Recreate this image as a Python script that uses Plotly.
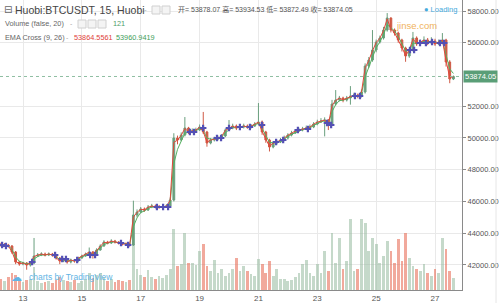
import numpy as np
import pandas as pd
import plotly.graph_objects as go

# ---------------- data (3-hour bars) ----------------
first_bar_day = 12.25          # day-of-month of first bar
bars_per_day = 8

open_ = [43300, 43258, 43258, 43195, 42817, 42187, 42061, 42124, 41998, 42124,
         42565, 42628, 42691, 42628, 42691, 42628, 42439, 42250, 42376, 42187,
         42313, 42250, 42439, 42565, 42691, 42817, 42628, 42943, 43195, 43447,
         43384, 43510, 43447, 43384, 43321, 43321, 43258, 45148, 45337, 45526,
         45463, 45652, 45715, 45652, 45652, 45652, 45715, 46093, 49999, 49873,
         50188, 50629, 50377, 50440, 50503, 50692, 50377, 49684, 49873, 49936,
         49999, 50125, 50503, 50629, 50755, 50629, 50692, 50755, 50692, 50755,
         50881, 51007, 50377, 49873, 49432, 49684, 49747, 49873, 49999, 50188,
         50314, 50440, 50503, 50566, 50629, 50692, 50881, 51007, 51070, 51133,
         50818, 52141, 52393, 52519, 52393, 52519, 52645, 52708, 52645, 52897,
         54535, 54913, 55543, 56047, 56299, 56803, 57559, 56803, 56614, 56173,
         55669, 55165, 55543, 56299, 55921, 56047, 56173, 55984, 56110, 55921,
         56047, 56173, 54787, 53716]

high = [43400, 43380, 43330, 43250, 42880, 42250, 42200, 42180, 42200, 43700,
        42750, 42800, 42780, 42790, 42760, 42700, 42500, 42450, 42420, 42400,
        42380, 42520, 42650, 42780, 43100, 42880, 43050, 43300, 43560, 43520,
        43620, 43580, 43500, 43430, 43420, 43380, 46050, 45500, 45650, 45620,
        45780, 45850, 45800, 45780, 45760, 45830, 46250, 50300, 50150, 50350,
        51320, 50700, 50600, 50650, 50850, 51640, 50450, 50000, 50080, 50150,
        50250, 50600, 51130, 50900, 50850, 50820, 50900, 50850, 50880, 51000,
        52200, 51100, 50450, 49950, 49800, 49880, 50000, 50150, 50300, 50450,
        50560, 50650, 50700, 50780, 50850, 51000, 51150, 51250, 51300, 51200,
        52400, 53020, 52650, 52600, 52650, 53270, 52850, 52800, 53050, 54700,
        55100, 56800, 56200, 56450, 57000, 57870, 57600, 56900, 56700, 56250,
        55750, 55700, 56680, 56400, 56200, 56400, 56300, 56350, 56250, 56200,
        56610, 56250, 54900, 53934.53]

low = [43150, 43140, 43100, 42700, 42050, 41950, 41980, 41700, 41900, 42050,
       42500, 42560, 42540, 42560, 42520, 42340, 42050, 42180, 42080, 42100,
       42150, 42200, 42400, 42520, 42640, 42400, 42580, 42900, 43150, 43300,
       43320, 43350, 43290, 43230, 43220, 43150, 43200, 45000, 45250, 45350,
       45400, 45580, 45560, 45540, 45550, 45600, 45650, 46000, 49600, 49800,
       50100, 50250, 50300, 50350, 50450, 50250, 49450, 49600, 49780, 49850,
       49900, 50050, 50450, 50550, 50500, 50550, 50600, 50580, 50600, 50700,
       50800, 50200, 49700, 49150, 49350, 49600, 49680, 49800, 49900, 50100,
       50250, 50380, 50420, 50500, 50560, 50620, 50800, 50950, 50100, 50500,
       50750, 52050, 52300, 52250, 52300, 52100, 52550, 52500, 52550, 52800,
       54400, 54800, 55400, 55950, 56200, 56700, 56650, 56450, 56000, 55450,
       54800, 55050, 55450, 55800, 55850, 55950, 55850, 55900, 55800, 55850,
       55950, 54500, 53450, 53650]

close = [43258, 43258, 43195, 42817, 42187, 42061, 42124, 41998, 42124, 42565,
         42628, 42691, 42628, 42691, 42628, 42439, 42250, 42376, 42187, 42313,
         42250, 42439, 42565, 42691, 42817, 42628, 42943, 43195, 43447, 43384,
         43510, 43447, 43384, 43321, 43321, 43258, 45148, 45337, 45526, 45463,
         45652, 45715, 45652, 45652, 45652, 45715, 46093, 49999, 49873, 50188,
         50629, 50377, 50440, 50503, 50692, 50377, 49684, 49873, 49936, 49999,
         50125, 50503, 50629, 50755, 50629, 50692, 50755, 50692, 50755, 50881,
         51007, 50377, 49873, 49432, 49684, 49747, 49873, 49999, 50188, 50314,
         50440, 50503, 50566, 50629, 50692, 50881, 51007, 51070, 51133, 50818,
         52141, 52393, 52519, 52393, 52519, 52645, 52708, 52645, 52897, 54535,
         54913, 55543, 56047, 56299, 56803, 57559, 56803, 56614, 56173, 55669,
         55165, 55543, 56299, 55921, 56047, 56173, 55984, 56110, 55921, 56047,
         56173, 54787, 53716, 53874.05]

volume = [154, 126, 182, 238, 210, 126, 112, 140, 154, 322,
          126, 98, 112, 126, 98, 140, 182, 140, 126, 112,
          140, 98, 126, 154, 238, 168, 210, 238, 182, 126,
          154, 112, 140, 126, 112, 140, 644, 294, 210, 182,
          280, 182, 154, 196, 168, 210, 294, 854, 336, 364,
          798, 378, 378, 350, 546, 644, 336, 266, 420, 238,
          294, 196, 238, 294, 448, 266, 336, 266, 224, 196,
          434, 364, 238, 406, 196, 294, 154, 154, 126, 140,
          182, 238, 364, 420, 238, 196, 364, 238, 546, 266,
          798, 378, 728, 294, 406, 994, 266, 294, 994, 938,
          546, 728, 644, 378, 476, 686, 546, 378, 714, 406,
          798, 448, 336, 294, 266, 364, 238, 196, 294, 238,
          728, 574, 266, 168]

# EMA-cross signal markers (day, price)
cross_day = [12.29, 12.42, 13.31, 14.09, 14.33, 14.46, 14.84, 15.28, 15.45,
             16.33, 16.57, 17.55, 17.76, 17.93, 18.67, 18.81, 19.12, 19.59,
             19.73, 20.00, 20.37, 20.71, 21.12, 21.60, 21.84, 22.34, 22.68,
             23.33, 23.47, 24.28, 24.45, 26.15, 26.29, 26.49, 26.69, 26.90,
             27.17, 27.31]
cross_price = [43258, 43195, 42187, 42628, 42376, 42376, 42313, 42628, 42628,
               43384, 43258, 45652, 45652, 45652, 50377, 50377, 50629, 49999,
               49999, 50629, 50692, 50692, 50818, 49747, 49873, 50503, 50566,
               50944, 50818, 52645, 52645, 55543, 55543, 55984, 55984, 56047,
               55984, 55984]

day_ticks = [13, 15, 17, 19, 21, 23, 25, 27]
price_ticks = [42000, 44000, 46000, 48000, 50000, 52000, 56000, 58000]

ema_fast_len, ema_slow_len = 9, 26
bars_15m_per_bar = 12

# ---------------- derived ----------------
t = first_bar_day + np.arange(len(close)) / bars_per_day
cl = pd.Series(close)
a_fast = 1 - (1 - 2 / (ema_fast_len + 1)) ** bars_15m_per_bar
a_slow = 1 - (1 - 2 / (ema_slow_len + 1)) ** bars_15m_per_bar
ema_fast = cl.ewm(alpha=a_fast, adjust=False).mean()
ema_slow = cl.ewm(alpha=a_slow, adjust=False).mean()

UP, DN = '#6a9f7e', '#cf5a45'
vol_col = ['rgba(150,185,158,0.55)' if c >= o else 'rgba(232,112,90,0.6)'
           for o, c in zip(open_, close)]

PW, PH = 462, 290
def px(x): return x / PW
def py(y): return 1 - y / PH

FONT = 'Liberation Sans, Noto Sans CJK SC, sans-serif'

fig = go.Figure()
fig.add_trace(go.Bar(x=t, y=volume, marker_color=vol_col, marker_line_width=0,
                     width=0.75 / bars_per_day, yaxis='y', hoverinfo='skip'))
fig.add_trace(go.Candlestick(x=t, open=open_, high=high, low=low, close=close,
                             yaxis='y2',
                             increasing=dict(line=dict(color=UP, width=1), fillcolor=UP),
                             decreasing=dict(line=dict(color=DN, width=1), fillcolor=DN),
                             whiskerwidth=0))
fig.add_trace(go.Scatter(x=t, y=ema_slow, mode='lines', yaxis='y2',
                         line=dict(color='#55b060', width=1)))
fig.add_trace(go.Scatter(x=t, y=ema_fast, mode='lines', yaxis='y2',
                         line=dict(color='#e2473b', width=1)))
fig.add_trace(go.Scatter(x=cross_day, y=cross_price, mode='markers', yaxis='y2',
                         marker=dict(symbol='cross', size=5.5, color='#5450b4',
                                     line=dict(width=0))))

x0 = 13 - 23 / 29.43
x1 = 13 + (PW - 23) / 29.43
y_top = 58000 + 11 * 63
y_bot = 58000 - (PH - 11) * 63

fig.update_layout(
    width=500, height=303, margin=dict(l=0, r=38, t=0, b=13),
    paper_bgcolor='white', plot_bgcolor='white', showlegend=False,
    bargap=0,
    font=dict(family=FONT, color='#555'),
    xaxis=dict(range=[x0, x1], tickvals=day_ticks, ticktext=[str(d) for d in day_ticks],
               showgrid=True, gridcolor='#e9e9e9', gridwidth=1, zeroline=False,
               showline=True, linecolor='#8a8a8a', linewidth=1, ticks='',
               tickfont=dict(size=8, color='#555'), rangeslider=dict(visible=False)),
    yaxis=dict(range=[0, PH * 14], visible=False, showgrid=False, fixedrange=True),
    yaxis2=dict(overlaying='y', side='right', range=[y_bot, y_top],
                tickvals=price_ticks, ticktext=[f'{p:.2f}' for p in price_ticks],
                showgrid=True, gridcolor='#e9e9e9', zeroline=False,
                showline=True, linecolor='#8a8a8a', linewidth=1,
                ticks='outside', ticklen=3, tickcolor='#8a8a8a',
                tickfont=dict(size=7.5, color='#555')),
)

last = close[-1]
fig.add_shape(type='line', xref='paper', x0=0, x1=1, yref='y2', y0=last, y1=last,
              line=dict(color='#8fbfa2', width=1, dash='dot'))
fig.add_shape(type='line', xref='paper', x0=px(496), x1=px(496), yref='paper',
              y0=py(303), y1=1, line=dict(color='#e6e6e6', width=1))

# small header icons
for (a, b, yy) in [(152, 160, 10), (162, 170, 10), (78, 86, 24), (88, 96, 24), (98, 106, 24)]:
    fig.add_shape(type='rect', xref='paper', yref='paper', x0=px(a), x1=px(b),
                  y0=py(yy + 4), y1=py(yy - 4), line=dict(color='#d0d0d0', width=1),
                  fillcolor='#f4f4f4')

def ann(x, y, text, size, color, anchor='left', family=FONT):
    fig.add_annotation(x=px(x), y=py(y), xref='paper', yref='paper', text=text,
                       showarrow=False, xanchor=anchor, yanchor='middle',
                       font=dict(size=size, color=color, family=family))

ann(2, 10, '⊟', 10, '#666', family='DejaVu Sans')
ann(13, 10, 'Huobi:BTCUSDT, 15, Huobi', 10.5, '#444')
ann(142, 10, '-', 8, '#aaa')
ann(176, 10, f'开= 53878.07 高= 53934.53 低= 53872.49 收= {last:.2f}', 7, '#555')
ann(422, 10, '● Loading', 7.5, '#45a9dc')
ann(3, 24, 'Volume (false, 20)', 7.3, '#666')
ann(68, 24, '-', 7, '#aaa')
ann(111, 24, '121', 7.3, '#4f9e68')
ann(3, 37, 'EMA Cross (9, 26)', 7.3, '#666')
ann(64, 37, '-', 7, '#aaa')
ann(72, 37, '53864.5561', 7.3, '#e0413a')
ann(114, 37, '53960.9419', 7.3, '#3e9e5a')
ann(416, 25, 'jinse.com', 9.5, '#f0b25c', anchor='center')
ann(9, 277, '☁', 11, '#62b4e4', family='DejaVu Sans')
ann(27, 277, 'charts by TradingView', 8.5, '#62b4e4')

fig.add_annotation(x=1.0, y=last, xref='paper', yref='y2', text=f'{last:.2f}',
                   showarrow=False, xanchor='left', yanchor='middle', xshift=1,
                   bgcolor='#5a9e77', borderpad=1,
                   font=dict(size=7.5, color='white', family=FONT))

fig.write_html('out.html')
